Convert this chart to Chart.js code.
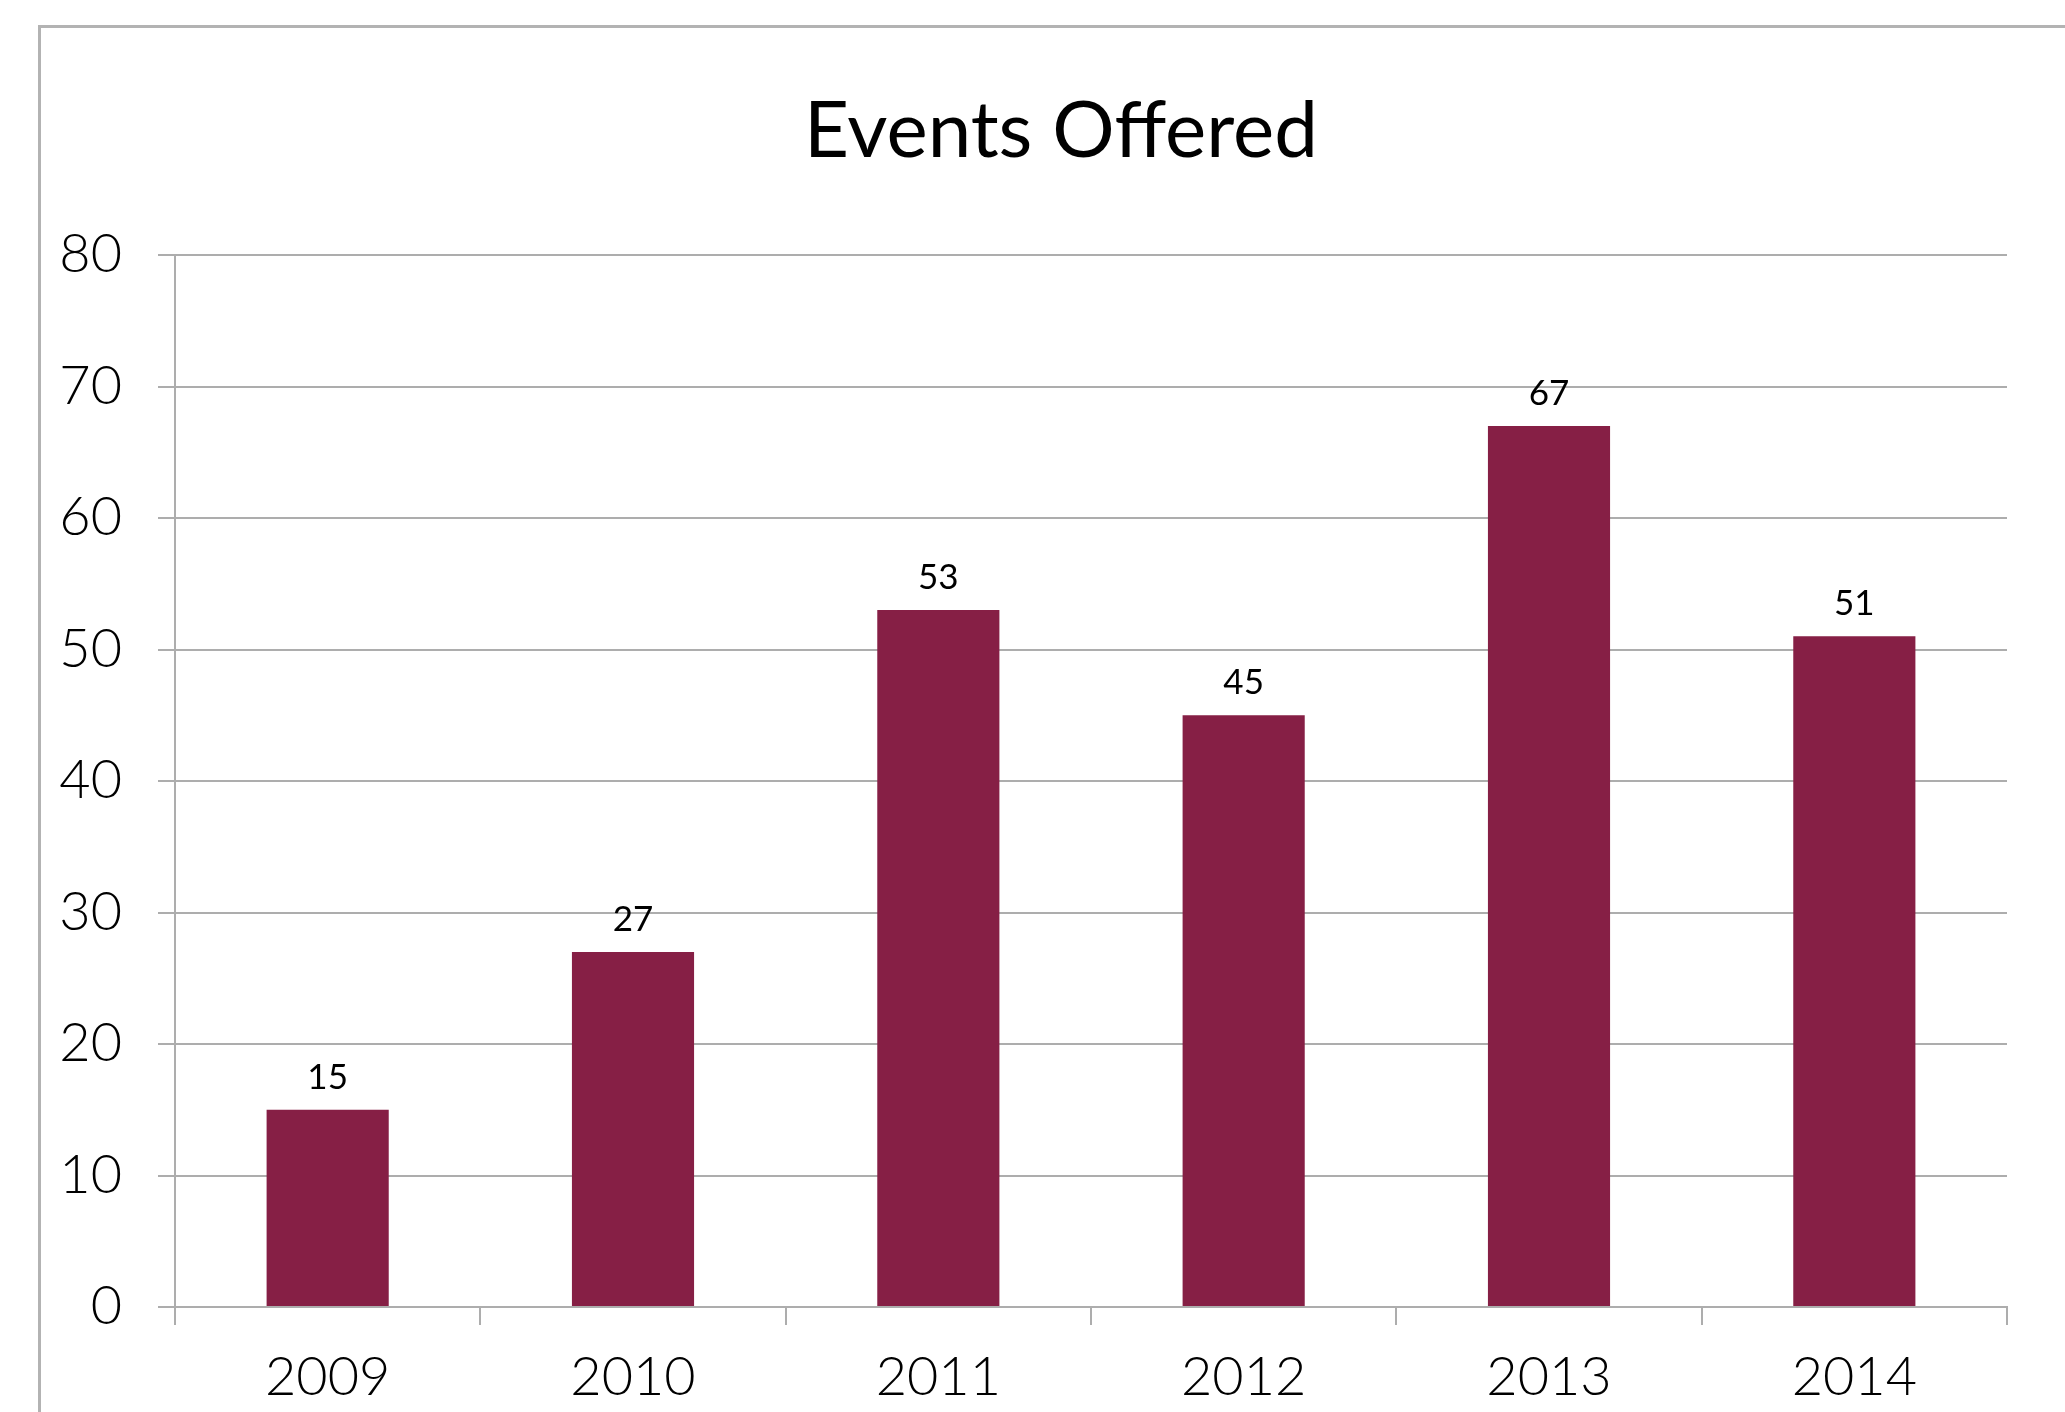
<!DOCTYPE html>
<html>
<head>
<meta charset="utf-8">
<script src="https://cdn.jsdelivr.net/npm/chart.js@4.4.1/dist/chart.umd.min.js"></script>
<style>
  html, body { margin: 0; padding: 0; background: #fff; overflow: hidden; }
  #wrap { position: relative; width: 2065px; height: 1412px; }
  #frame {
    position: absolute; left: 38px; top: 25px; width: 2200px; height: 1500px;
    border-left: 3px solid #b3b3b3; border-top: 3px solid #b3b3b3;
  }
  canvas { position: absolute; left: 0; top: 0; }
</style>
</head>
<body>
<div id="wrap">
  <div id="frame"></div>
  <canvas id="eventsChart" width="2065" height="1412"></canvas>
</div>
<script>
  const chartTitle = "Events Offered";
  const years = ["2009", "2010", "2011", "2012", "2013", "2014"];
  const eventsOffered = [15, 27, 53, 45, 67, 51];
  const yTicks = [0, 10, 20, 30, 40, 50, 60, 70, 80];

  const barColor = "#861f45";
  const gridColor = "#adadad";
  const fontFamily = "Lato, 'Open Sans', sans-serif";

  // title sits a little left of the plot centre, like the original
  const titleText = {
    id: "titleText",
    afterDraw(chart) {
      const ctx = chart.ctx;
      const area = chart.chartArea;
      ctx.save();
      ctx.font = "78px " + fontFamily;
      ctx.fillStyle = "#000";
      ctx.textAlign = "center";
      ctx.textBaseline = "middle";
      ctx.fillText(chartTitle, (area.left + area.right) / 2 - 30, area.top - 123);
      ctx.restore();
    },
  };

  // draws the value above each bar
  const valueLabels = {
    id: "valueLabels",
    afterDatasetsDraw(chart) {
      const ctx = chart.ctx;
      const meta = chart.getDatasetMeta(0);
      ctx.save();
      ctx.font = "35px " + fontFamily;
      ctx.fillStyle = "#000";
      ctx.textAlign = "center";
      ctx.textBaseline = "bottom";
      meta.data.forEach((bar, i) => {
        ctx.fillText(eventsOffered[i], bar.x, bar.y - 15);
      });
      ctx.restore();
    },
  };

  const ctx = document.getElementById("eventsChart").getContext("2d");
  const eventsChart = new Chart(ctx, {
    type: "bar",
    data: {
      labels: years,
      datasets: [
        {
          label: chartTitle,
          data: eventsOffered,
          backgroundColor: barColor,
          barPercentage: 0.4,
          categoryPercentage: 1.0,
        },
      ],
    },
    options: {
      responsive: false,
      animation: false,
      layout: {
        padding: { left: 0, right: 58, top: 255, bottom: 0 },
      },
      scales: {
        x: {
          offset: true,
          grid: {
            offset: true,
            drawOnChartArea: false,
            drawTicks: true,
            tickLength: 18,
            color: gridColor,
            lineWidth: 2,
          },
          border: { color: gridColor, width: 2 },
          ticks: {
            color: "#000",
            padding: 20,
            font: { family: fontFamily, size: 54, weight: 300 },
          },
          afterFit(scale) {
            scale.height = 105;
          },
        },
        y: {
          min: 0,
          max: 80,
          afterBuildTicks(scale) {
            scale.ticks = yTicks.map((v) => ({ value: v }));
          },
          grid: {
            color: gridColor,
            lineWidth: 2,
            drawTicks: true,
            tickLength: 17,
          },
          border: { color: gridColor, width: 2 },
          ticks: {
            color: "#000",
            padding: 36,
            font: { family: fontFamily, size: 54, weight: 300 },
          },
          afterFit(scale) {
            scale.width = 175;
          },
        },
      },
      plugins: {
        legend: { display: false },
        tooltip: { enabled: false },
        title: { display: false },
      },
    },
    plugins: [titleText, valueLabels],
  });
</script>
</body>
</html>
